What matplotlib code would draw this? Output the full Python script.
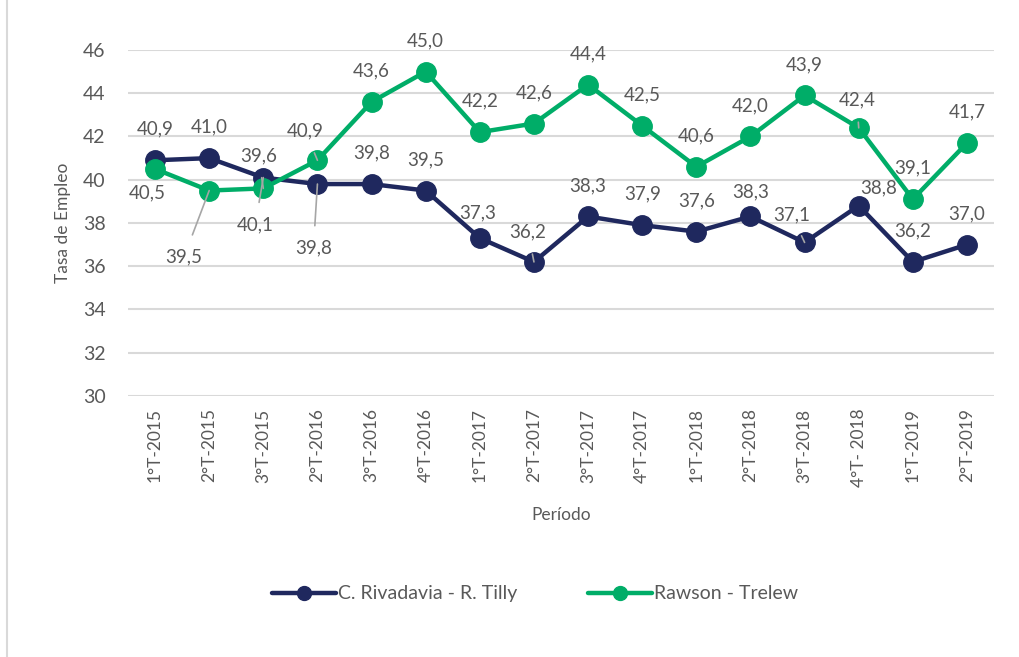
import numpy as np
import matplotlib
matplotlib.use('Agg')
import matplotlib.pyplot as plt
from matplotlib.lines import Line2D

plt.rcParams['font.family'] = ['Lato', 'DejaVu Sans']

periodos = ['1°T-2015', '2°T-2015', '3°T-2015', '2°T-2016', '3°T-2016', '4°T-2016',
            '1°T-2017', '2°T-2017', '3°T-2017', '4°T-2017', '1°T-2018', '2°T-2018',
            '3°T-2018', '4°T- 2018', '1°T-2019', '2°T-2019']
rivadavia = [40.9, 41.0, 40.1, 39.8, 39.8, 39.5, 37.3, 36.2, 38.3, 37.9, 37.6, 38.3,
             37.1, 38.8, 36.2, 37.0]
rawson = [40.5, 39.5, 39.6, 40.9, 43.6, 45.0, 42.2, 42.6, 44.4, 42.5, 40.6, 42.0,
          43.9, 42.4, 39.1, 41.7]
y_ticks = [30, 32, 34, 36, 38, 40, 42, 44, 46]

NAVY = '#1f285e'
GREEN = '#00ad68'
TXT = '#595959'

# label offsets in pixels (x, y), and whether a leader line is drawn
off_riv = {2: (-8, -47, True), 3: (-4, -64, True), 7: (-6, 30, True), 12: (-13, 28, True),
           13: (20, 18, False), 11: (0, 25, False), 6: (-2, 25, False)}
off_raw = {0: (-8, -24, False), 1: (-25, -66, True), 2: (-5, 33, True), 3: (-12, 29, True),
           13: (-2, 28, True)}

fig = plt.figure(figsize=(10.19, 6.57), dpi=100)
ax = fig.add_axes([0.1256, 0.3973, 0.8499, 0.5266])

x = np.arange(len(periodos))
for serie, color, offs in [(rivadavia, NAVY, off_riv), (rawson, GREEN, off_raw)]:
    ax.plot(x, serie, color=color, lw=3.2, marker='o', ms=14, zorder=3,
            solid_capstyle='round')
    for i, v in enumerate(serie):
        dx, dy, lead = offs.get(i, (0, 31, False))
        ax.annotate(f'{v:.1f}'.replace('.', ','), (i, v), xytext=(dx, dy),
                    textcoords='offset pixels', ha='center', va='center',
                    fontsize=13.5, color=TXT, zorder=5,
                    arrowprops=dict(arrowstyle='-', color='#a6a6a6', lw=1.2,
                                    shrinkA=8, shrinkB=0) if lead else None)

ax.set_xlim(-0.5, len(periodos) - 0.5)
ax.set_ylim(30, 46)
ax.set_yticks(y_ticks)
ax.set_xticks(x)
ax.set_xticklabels(periodos, rotation=90, fontsize=12.5, color=TXT)
ax.tick_params(axis='y', labelsize=14, labelcolor=TXT, length=0, pad=16)
ax.tick_params(axis='x', length=0, pad=9)
ax.grid(axis='y', color='#d9d9d9', lw=1.5)
ax.set_axisbelow(True)
for s in ax.spines.values():
    s.set_visible(False)
ax.set_ylabel('Tasa de Empleo', fontsize=12.5, color=TXT, labelpad=9)
ax.set_xlabel('Período', fontsize=12.5, color=TXT, labelpad=14)

handles = [Line2D([], [], color=NAVY, lw=3.2, marker='o', ms=10, solid_capstyle='round'),
           Line2D([], [], color=GREEN, lw=3.2, marker='o', ms=10, solid_capstyle='round')]
fig.legend(handles, ['C. Rivadavia - R. Tilly', 'Rawson - Trelew'], loc='center',
           bbox_to_anchor=(0.525, 0.096), ncol=2, frameon=False, fontsize=14,
           labelcolor=TXT, handlelength=3.3, handletextpad=0.1, columnspacing=3.6)

fig.add_artist(Line2D([0.007, 0.007], [0, 1], transform=fig.transFigure,
                      color='#d9d9d9', lw=1.5))

fig.savefig('out.png', dpi=100, facecolor='white')
